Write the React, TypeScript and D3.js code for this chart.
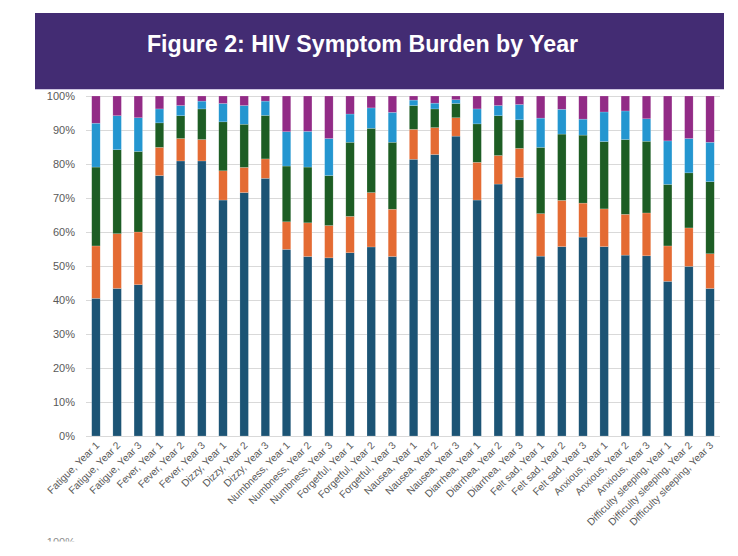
import { useEffect, useRef } from "react";
import * as d3 from "d3";

const categories = [
  "Fatigue, Year 1", "Fatigue, Year 2", "Fatigue, Year 3",
  "Fever, Year 1", "Fever, Year 2", "Fever, Year 3",
  "Dizzy, Year 1", "Dizzy, Year 2", "Dizzy, Year 3",
  "Numbness, Year 1", "Numbness, Year 2", "Numbness, Year 3",
  "Forgetful, Year 1", "Forgetful, Year 2", "Forgetful, Year 3",
  "Nausea, Year 1", "Nausea, Year 2", "Nausea, Year 3",
  "Diarrhea, Year 1", "Diarrhea, Year 2", "Diarrhea, Year 3",
  "Felt sad, Year 1", "Felt sad, Year 2", "Felt sad, Year 3",
  "Anxious, Year 1", "Anxious, Year 2", "Anxious, Year 3",
  "Difficulty sleeping, Year 1", "Difficulty sleeping, Year 2", "Difficulty sleeping, Year 3",
];

// share of responses per level, bottom to top (percent)
const level1 = [40.5, 43.4, 44.5, 76.6, 80.9, 80.9, 69.4, 71.6, 75.8, 54.9, 52.8, 52.4, 53.9, 55.6, 52.8, 81.4, 82.8, 88.2, 69.4, 74.1, 76.0, 52.9, 55.7, 58.5, 55.7, 53.2, 53.0, 45.5, 49.9, 43.4];
const level2 = [15.4, 16.1, 15.5, 8.3, 6.6, 6.3, 8.6, 7.4, 5.7, 8.1, 9.9, 9.5, 10.7, 16.0, 13.9, 8.8, 7.9, 5.4, 11.1, 8.4, 8.6, 12.5, 13.6, 10.0, 11.1, 12.0, 12.6, 10.4, 11.3, 10.2];
const level3 = [23.2, 24.7, 23.7, 7.2, 6.7, 9.0, 14.4, 12.7, 12.8, 16.4, 16.4, 14.7, 21.8, 18.9, 19.7, 7.0, 5.5, 4.2, 11.3, 11.7, 8.4, 19.5, 19.5, 20.0, 19.8, 22.0, 21.1, 18.1, 16.2, 21.2];
const level4 = [12.9, 10.0, 9.9, 4.1, 3.0, 2.3, 5.4, 5.5, 4.2, 10.1, 10.5, 10.9, 8.3, 6.0, 8.8, 1.6, 1.7, 1.1, 4.4, 3.0, 4.5, 8.6, 7.3, 4.7, 8.7, 8.4, 6.6, 12.8, 10.1, 11.6];
const level5 = [8.0, 5.8, 6.4, 3.8, 2.8, 1.5, 2.2, 2.8, 1.5, 10.5, 10.4, 12.5, 5.3, 3.5, 4.8, 1.2, 2.1, 1.1, 3.8, 2.8, 2.5, 6.5, 3.9, 6.8, 4.7, 4.4, 6.7, 13.2, 12.5, 13.6];

const seriesKeys = ["level1", "level2", "level3", "level4", "level5"];
const seriesColors = ["#1c5475", "#e46b33", "#1d5d24", "#2496d0", "#922b86"];
const yTicks = [0, 0.1, 0.2, 0.3, 0.4, 0.5, 0.6, 0.7, 0.8, 0.9, 1];

const W = 738;
const H = 556;
const FONT = "'Liberation Sans', Arial, sans-serif";

export default function App() {
  const ref = useRef<SVGSVGElement | null>(null);

  useEffect(() => {
    if (!ref.current) return;
    const svg = d3.select(ref.current);
    svg.selectAll("*").remove();

    const rows = categories.map((c, i) => ({
      category: c,
      level1: level1[i],
      level2: level2[i],
      level3: level3[i],
      level4: level4[i],
      level5: level5[i],
    }));

    const stacked = d3
      .stack<(typeof rows)[number]>()
      .keys(seriesKeys)
      .offset(d3.stackOffsetExpand)(rows);

    const x = d3
      .scaleBand<string>()
      .domain(categories)
      .range([86, 720])
      .paddingInner(0.6)
      .paddingOuter(0.27);
    const y = d3.scaleLinear().domain([0, 1]).range([436, 96]);

    // header band
    svg
      .append("rect")
      .attr("x", 35)
      .attr("y", 13)
      .attr("width", 689)
      .attr("height", 76)
      .attr("fill", "#432c73");
    svg
      .append("line")
      .attr("x1", 35)
      .attr("x2", 724)
      .attr("y1", 89.5)
      .attr("y2", 89.5)
      .attr("stroke", "#cdc5e0")
      .attr("stroke-width", 1);
    svg
      .append("text")
      .attr("x", 362.5)
      .attr("y", 52)
      .attr("text-anchor", "middle")
      .attr("font-family", FONT)
      .attr("font-weight", "bold")
      .attr("font-size", 23.2)
      .attr("fill", "#ffffff")
      .text("Figure 2: HIV Symptom Burden by Year");

    // gridlines + y labels
    const grid = svg.append("g");
    grid
      .selectAll("line")
      .data(yTicks)
      .join("line")
      .attr("x1", 86)
      .attr("x2", 720)
      .attr("y1", (d) => Math.round(y(d)) + 0.5)
      .attr("y2", (d) => Math.round(y(d)) + 0.5)
      .attr("stroke", "#d9d9d9")
      .attr("stroke-width", 1);
    grid
      .selectAll("text")
      .data(yTicks)
      .join("text")
      .attr("x", 75)
      .attr("y", (d) => y(d))
      .attr("dy", "0.36em")
      .attr("text-anchor", "end")
      .attr("font-family", FONT)
      .attr("font-size", 11)
      .attr("fill", "#595959")
      .text((d) => d3.format(".0%")(d));

    // stacked bars
    svg
      .append("g")
      .selectAll("g")
      .data(stacked)
      .join("g")
      .attr("fill", (_, i) => seriesColors[i])
      .selectAll("rect")
      .data((s) => s)
      .join("rect")
      .attr("x", (d) => x(d.data.category)!)
      .attr("width", x.bandwidth())
      .attr("y", (d) => y(d[1]))
      .attr("height", (d) => y(d[0]) - y(d[1]))
      .attr("stroke", "#ffffff")
      .attr("stroke-opacity", 0.35)
      .attr("stroke-width", 0.5);

    // rotated category labels
    svg
      .append("g")
      .selectAll("text")
      .data(categories)
      .join("text")
      .attr(
        "transform",
        (d) => `translate(${x(d)! + x.bandwidth() / 2 + 4},${446}) rotate(-45)`,
      )
      .attr("text-anchor", "end")
      .attr("font-family", FONT)
      .attr("font-size", 10.2)
      .attr("fill", "#595959")
      .text((d) => d);

    // top of the next chart's axis label, cut off by the page edge
    svg
      .append("defs")
      .append("clipPath")
      .attr("id", "cut-next")
      .append("rect")
      .attr("x", 0)
      .attr("y", 530)
      .attr("width", 120)
      .attr("height", 11.5);
    svg
      .append("text")
      .attr("clip-path", "url(#cut-next)")
      .attr("x", 75)
      .attr("y", 546)
      .attr("text-anchor", "end")
      .attr("font-family", FONT)
      .attr("font-size", 11)
      .attr("fill", "#8c8c8c")
      .text("100%");

    return () => {
      svg.selectAll("*").remove();
    };
  }, []);

  return (
    <div style={{ position: "absolute", left: 0, top: 0, width: W, height: H, background: "#fff" }}>
      <svg ref={ref} width={W} height={H} />
    </div>
  );
}
